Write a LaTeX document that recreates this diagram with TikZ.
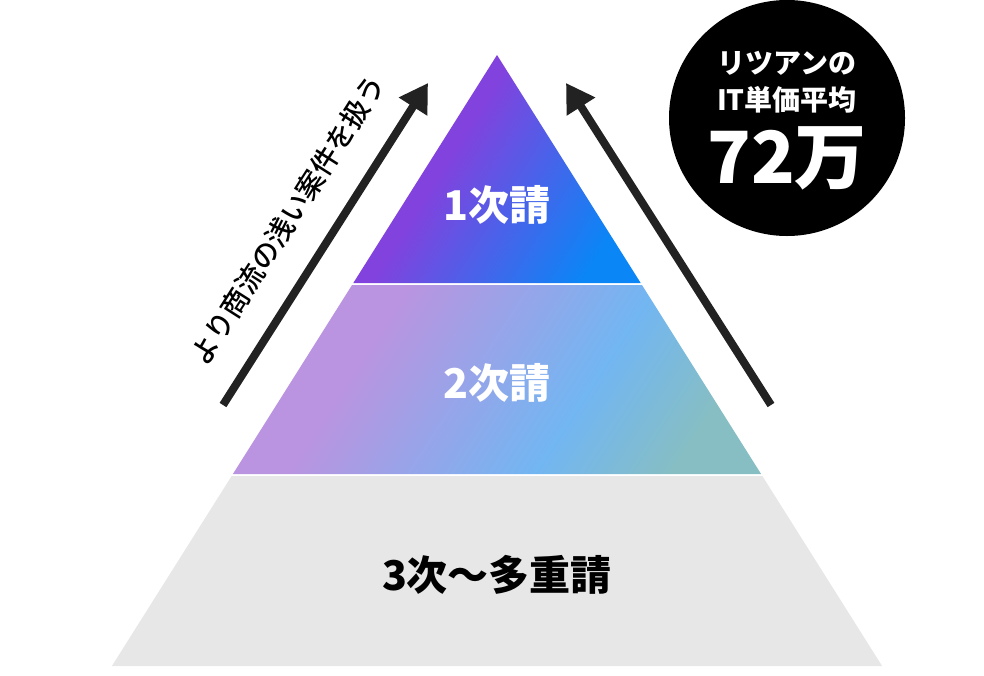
\documentclass[tikz,border=0pt]{standalone}
\usepackage{fontspec}
\newfontfamily\jpfont{Noto Sans CJK JP}
\newfontfamily\jpmedium{Noto Sans CJK JP Medium}
\usetikzlibrary{arrows.meta}

\definecolor{toppurple}{HTML}{8242DE}
\definecolor{topblue}{HTML}{0A86F6}
\definecolor{midlilac}{HTML}{BA94E0}
\definecolor{midsky}{HTML}{72B6F2}
\definecolor{midteal}{HTML}{86BEC4}
\definecolor{basegray}{HTML}{E7E7E7}
\definecolor{arrowgray}{HTML}{222222}

% Tier shadings (the box round each tier is stretched over 25bp to 75bp)
\pgfdeclarehorizontalshading{topshade}{100bp}{color(0bp)=(toppurple); color(41bp)=(toppurple); color(75bp)=(topblue); color(100bp)=(topblue)}
\pgfdeclarehorizontalshading{midshade}{100bp}{color(0bp)=(midlilac); color(34bp)=(midlilac); color(60.5bp)=(midsky); color(75bp)=(midteal); color(100bp)=(midteal)}

\tikzset{
    tierlabel/.style={font=\jpfont\bfseries\fontsize{41}{41}\selectfont, inner sep=0},
    badgetext/.style={font=\jpfont\bfseries\fontsize{28}{28}\selectfont, text=white, inner sep=0},
    trackarrow/.style={draw=arrowgray, line width=8pt, -{Triangle[length=28pt,width=32pt]}}
}

\begin{document}
\begin{tikzpicture}[x=1pt,y=-1pt]
    \useasboundingbox (0,0) rectangle (984,675);

    % Define pyramid size
    \def\apexx{497}
    \def\apexy{55}
    \def\slope{0.6303} % half width per unit of height

    % Tier corners (a white gap of 2 between tiers)
    \coordinate (apex) at (\apexx,\apexy);
    \foreach \name/\ypos in {ta/283, tb/285, ma/474, mb/476, ba/666} {
        \pgfmathsetmacro\half{(\ypos-\apexy)*\slope}
        \coordinate (\name l) at (\apexx-\half,\ypos);
        \coordinate (\name r) at (\apexx+\half,\ypos);
    }

    % Tiers
    \shade[shading=topshade, shading angle=-32] (apex) -- (tar) -- (tal) -- cycle;
    \shade[shading=midshade, shading angle=-33] (tbl) -- (tbr) -- (mar) -- (mal) -- cycle;
    \fill[basegray] (mbl) -- (mbr) -- (bar) -- (bal) -- cycle;

    % Labels
    \node[tierlabel, text=white] (first) at (497,205) {1次請};
    \node[tierlabel, text=white] (second) at (497,383) {2次請};
    \node[tierlabel, text=black] (third) at (497,575) {3次〜多重請};

    % Badge
    \node[circle, fill=black, minimum size=236pt, inner sep=0] (badge) at (787,118) {};
    \node[badgetext] (company) at (787,63) {リツアンの};
    \node[badgetext] (unitprice) at (787,100) {IT単価平均};
    \node[badgetext, font=\jpfont\bfseries\fontsize{72}{72}\selectfont] (amount) at (787,158) {72万};

    % Arrows
    \coordinate (ltail) at (223,405);
    \coordinate (ltip) at (428,83);
    \coordinate (rtail) at (771,405);
    \coordinate (rtip) at (566,83);
    \draw[trackarrow] (ltail) -- (ltip)
        node[midway, sloped, above=28pt, inner sep=0, font=\jpmedium\fontsize{28}{28}\selectfont] (flow) {より商流の浅い案件を扱う};
    \draw[trackarrow] (rtail) -- (rtip);

\end{tikzpicture}
\end{document}
